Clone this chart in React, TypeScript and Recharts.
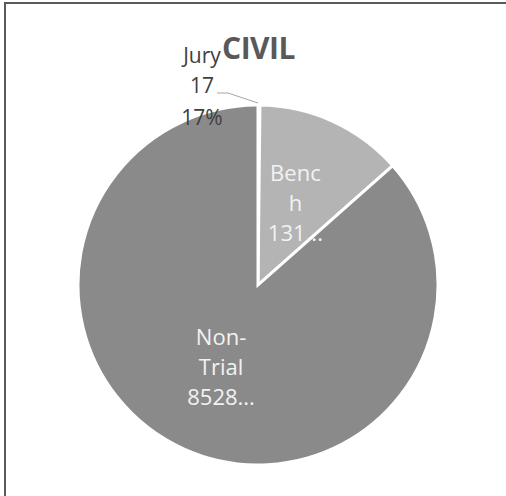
import { PieChart, Pie, Cell } from 'recharts'

const categories = ['Jury', 'Bench', 'Non-Trial']
const values = [17, 1310, 8528]
const labelLines = [
  ['Jury', '17', '17%'],
  ['Benc', 'h', '131...'],
  ['Non-', 'Trial', '8528...'],
]
const colors = ['#6f6f6f', '#b4b4b4', '#8a8a8a']

const data = categories.map((name, i) => ({ name, value: values[i] }))

const RAD = Math.PI / 180
const FONT = '"Open Sans", sans-serif'

function renderLabel(props: any) {
  const { cx, cy, midAngle, outerRadius, index } = props
  const lines = labelLines[index]
  const cos = Math.cos(-midAngle * RAD)
  const sin = Math.sin(-midAngle * RAD)

  if (index === 0) {
    // outside label with leader line
    const ex = cx + outerRadius * cos
    const ey = cy + outerRadius * sin
    const tx = ex - 57
    return (
      <g>
        <polyline
          points={`${ex - 1},${ey - 2} ${ex - 31},${ey - 12} ${ex - 42},${ey - 12}`}
          fill="none"
          stroke="#a6a6a6"
          strokeWidth={1}
        />
        <text x={tx} y={ey} textAnchor="middle" fill="#404040" fontFamily={FONT} fontSize={21}>
          <tspan x={tx} y={ey - 42}>{lines[0]}</tspan>
          <tspan x={tx} y={ey - 12}>{lines[1]}</tspan>
          <tspan x={tx} y={ey + 20}>{lines[2]}</tspan>
        </text>
      </g>
    )
  }

  const r = outerRadius * 0.5
  const x = cx + r * cos
  const y = cy + r * sin
  return (
    <text x={x} y={y} textAnchor="middle" fill="#f2f2f2" fontFamily={FONT} fontSize={22}>
      {lines.map((t, i) => (
        <tspan key={i} x={x} y={y + 8 + (i - 1) * 30}>
          {t}
        </tspan>
      ))}
    </text>
  )
}

export default function App() {
  return (
    <div style={{ position: 'absolute', left: 0, top: 0, width: 506, height: 496, background: '#fff' }}>
      <div
        style={{
          position: 'absolute',
          left: 4,
          top: 2,
          width: 502,
          height: 494,
          borderTop: '2px solid #5a5a5a',
          borderLeft: '2px solid #5a5a5a',
        }}
      />
      <div
        style={{
          position: 'absolute',
          left: 0,
          top: 29,
          width: 517,
          textAlign: 'center',
          fontFamily: FONT,
          fontWeight: 700,
          fontSize: 30,
          color: '#595959',
          lineHeight: '38px',
          letterSpacing: -0.5,
        }}
      >
        CIVIL
      </div>
      <PieChart
        width={506}
        height={496}
        margin={{ top: 0, right: 0, bottom: 0, left: 0 }}
        style={{ position: 'absolute', left: 0, top: 0 }}
      >
        <Pie
          data={data}
          dataKey="value"
          nameKey="name"
          cx={258}
          cy={285}
          outerRadius={180}
          startAngle={90}
          endAngle={-270}
          stroke="#ffffff"
          strokeWidth={3}
          labelLine={false}
          label={renderLabel}
          isAnimationActive={false}
        >
          {data.map((d, i) => (
            <Cell key={d.name} fill={colors[i]} />
          ))}
        </Pie>
      </PieChart>
    </div>
  )
}
